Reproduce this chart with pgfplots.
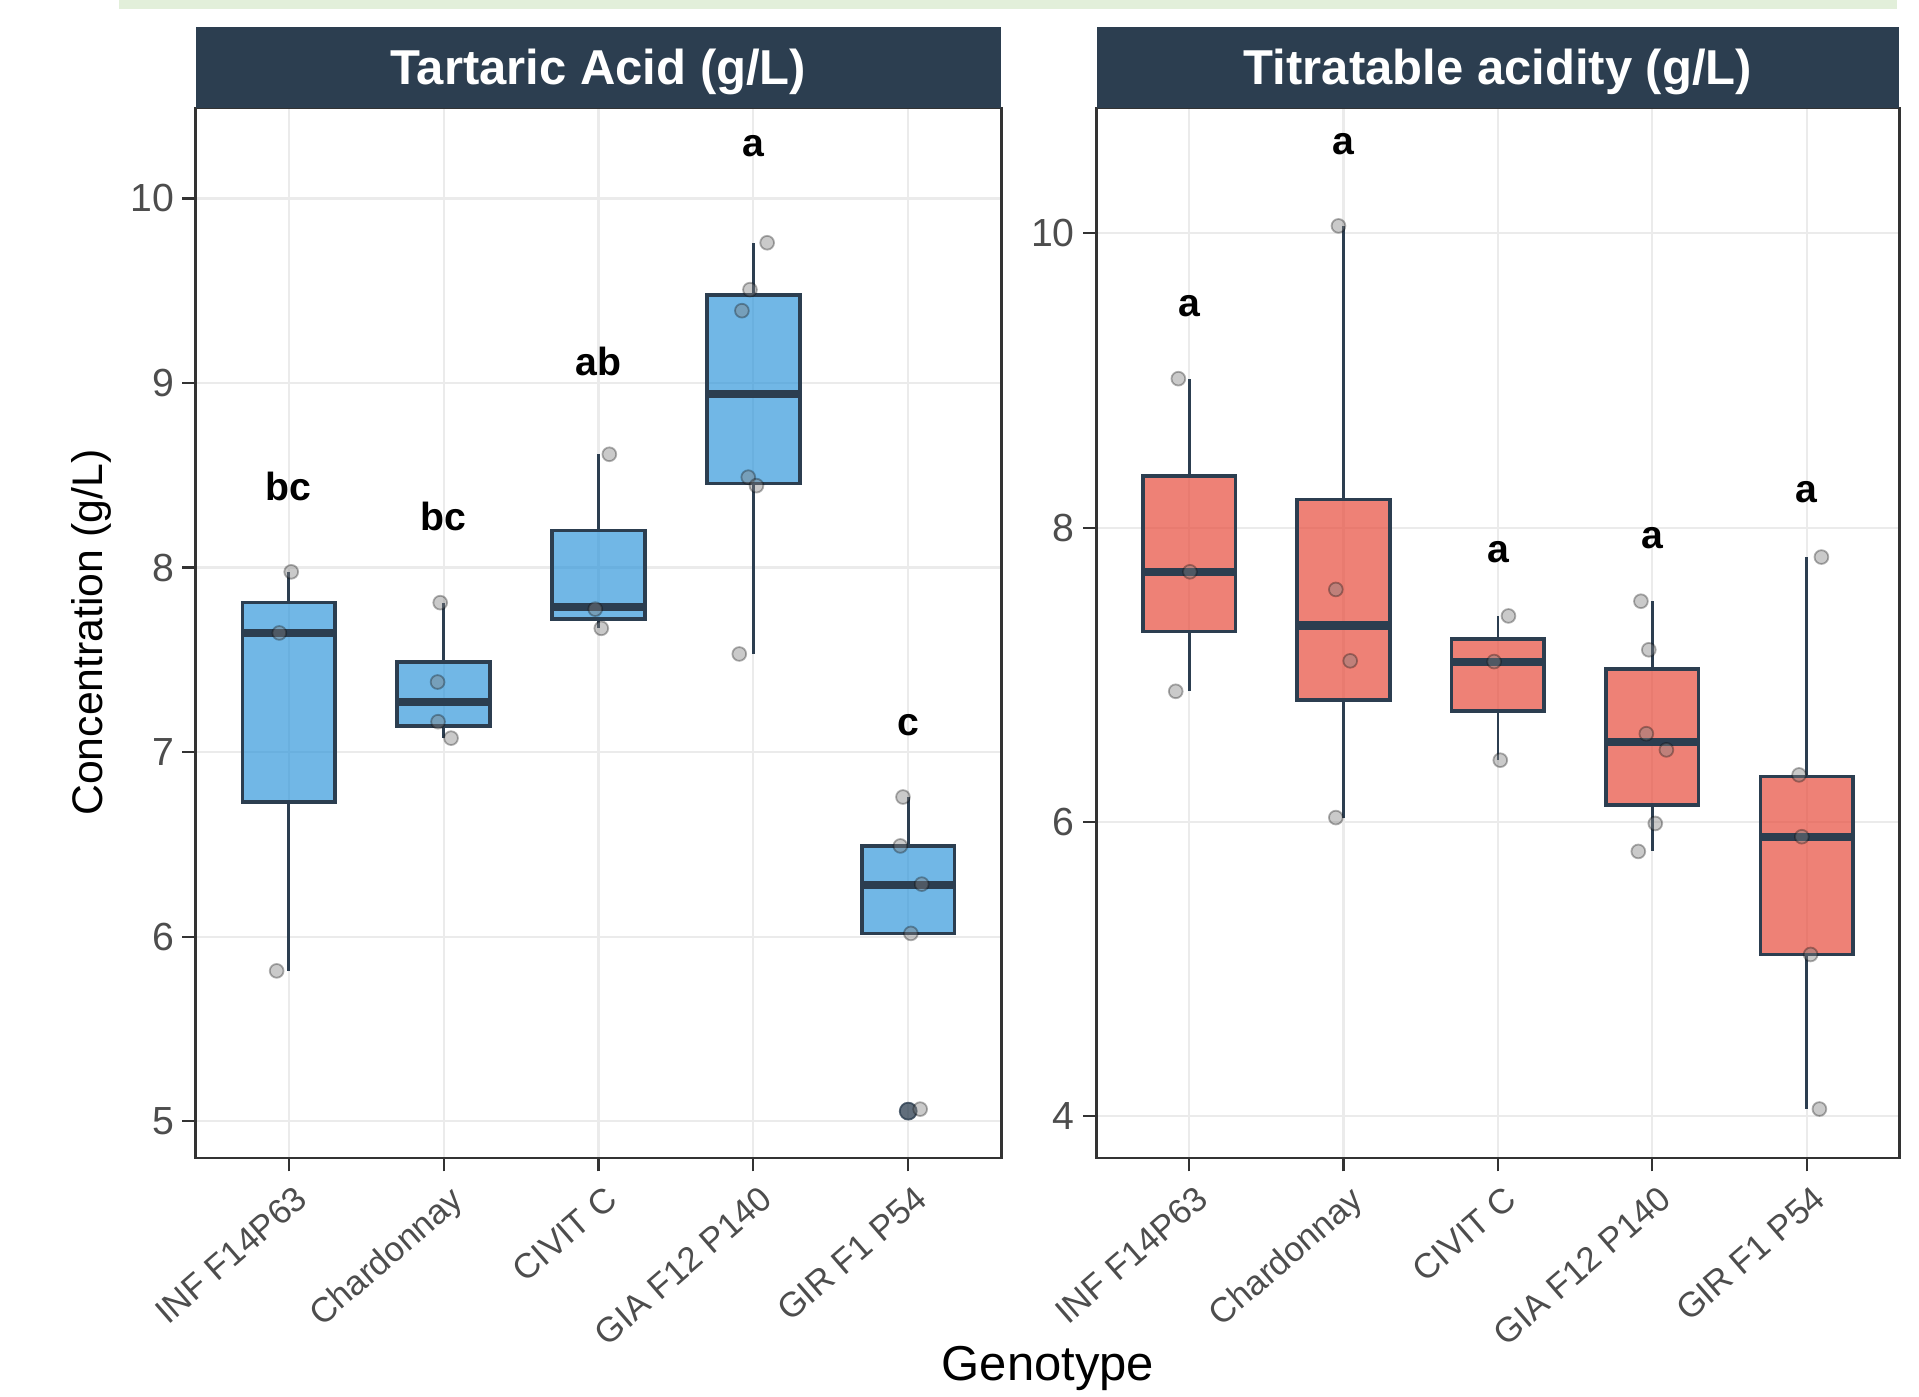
\documentclass[border=0pt]{standalone}
\usepackage{fontspec}
\setmainfont{Liberation Sans}
\usepackage{pgfplots}
\pgfplotsset{compat=1.18}

\definecolor{navy}{HTML}{2C3E50}
\definecolor{bblue}{HTML}{3498DB}
\definecolor{bred}{HTML}{E74C3C}
\definecolor{gridc}{HTML}{EBEBEB}
\definecolor{framec}{HTML}{333333}
\definecolor{ticktext}{HTML}{4D4D4D}
\definecolor{topgreen}{HTML}{E2EFDA}

\tikzset{letter/.style={anchor=base, font=\fontsize{8.8}{10}\selectfont\bfseries, text=black}}

\pgfplotsset{
  panel/.style={
    scale only axis, height=235.7pt,
    xmin=0.4, xmax=5.6,
    xtick={1,2,3,4,5},
    xticklabels={INF F14P63,Chardonnay,CIVIT C,GIA F12 P140,GIR F1 P54},
    grid=major, major grid style={gridc, line width=0.5pt},
    axis line style={framec, line width=0.6pt},
    tick style={framec, line width=0.5pt},
    tick align=outside, major tick length=3pt,
    xtick pos=bottom, ytick pos=left,
    tick label style={text=ticktext},
    yticklabel style={font=\fontsize{8.8}{10}\selectfont, anchor=east, inner sep=0pt, xshift=-1.7pt},
    xticklabel style={font=\fontsize{7.8}{10}\selectfont, xshift=1.1pt, yshift=-2.6pt, rotate=41, anchor=north east, inner sep=0pt},
    /pgf/number format/assume math mode=true,
    clip=false,
  },
  bluebox/.style={draw=navy, fill=bblue, fill opacity=0.7, line width=0.8pt},
  redbox/.style={draw=navy, fill=bred, fill opacity=0.7, line width=0.8pt},
  whisk/.style={draw=navy, line width=0.6pt},
  med/.style={draw=navy, line width=1.8pt},
  pts/.style={only marks, mark=*, mark size=1.55pt,
    mark options={fill=gray, draw=black, fill opacity=0.42, draw opacity=0.3, line width=0.4pt}},
}

\begin{document}
\begin{tikzpicture}
\path[use as bounding box] (0,0) rectangle (430.7pt,-313.4pt);
\fill[topgreen] (26.6pt,0pt) rectangle (425.8pt,-2.0pt);

% ---------- Left panel: Tartaric Acid ----------
\begin{axis}[panel, at={(43.95pt,-259.9pt)}, anchor=south west, width=180.75pt,
  ymin=4.801, ymax=10.491, ytick={5,6,7,8,9,10}]
% INF F14P63
\addplot[whisk] coordinates {(1,7.81) (1,7.977)};
\addplot[whisk] coordinates {(1,6.73) (1,5.815)};
\addplot[bluebox] coordinates {(0.7,6.73) (1.3,6.73) (1.3,7.81) (0.7,7.81)} -- cycle;
\addplot[med] coordinates {(0.7,7.646) (1.3,7.646)};
% Chardonnay
\addplot[whisk] coordinates {(2,7.49) (2,7.81)};
\addplot[whisk] coordinates {(2,7.143) (2,7.076)};
\addplot[bluebox] coordinates {(1.7,7.143) (2.3,7.143) (2.3,7.49) (1.7,7.49)} -- cycle;
\addplot[med] coordinates {(1.7,7.27) (2.3,7.27)};
% CIVIT C
\addplot[whisk] coordinates {(3,8.20) (3,8.614)};
\addplot[whisk] coordinates {(3,7.723) (3,7.671)};
\addplot[bluebox] coordinates {(2.7,7.723) (3.3,7.723) (3.3,8.20) (2.7,8.20)} -- cycle;
\addplot[med] coordinates {(2.7,7.785) (3.3,7.785)};
% GIA F12 P140
\addplot[whisk] coordinates {(4,9.478) (4,9.76)};
\addplot[whisk] coordinates {(4,8.456) (4,7.532)};
\addplot[bluebox] coordinates {(3.7,8.456) (4.3,8.456) (4.3,9.478) (3.7,9.478)} -- cycle;
\addplot[med] coordinates {(3.7,8.94) (4.3,8.94)};
% GIR F1 P54
\addplot[whisk] coordinates {(5,6.492) (5,6.757)};
\addplot[bluebox] coordinates {(4.7,6.018) (5.3,6.018) (5.3,6.492) (4.7,6.492)} -- cycle;
\addplot[med] coordinates {(4.7,6.28) (5.3,6.28)};
% outlier
\addplot[only marks, mark=*, mark size=1.9pt, mark options={fill=navy, draw=navy, fill opacity=0.75, draw opacity=0.8}] coordinates {(5,5.055)};
% jittered observations
\addplot[pts] coordinates {
 (1.016,7.977) (0.939,7.646) (0.922,5.815)
 (1.978,7.81) (1.961,7.38) (1.964,7.165) (2.048,7.076)
 (3.070,8.614) (2.979,7.775) (3.018,7.671)
 (4.089,9.76) (3.978,9.506) (3.926,9.392) (3.967,8.49) (4.020,8.444) (3.909,7.532)
 (4.966,6.757) (4.949,6.492) (5.087,6.285) (5.017,6.018) (5.077,5.066)
};
\node[letter] at (axis cs:1,8.365) {bc};
\node[letter] at (axis cs:2,8.20) {bc};
\node[letter] at (axis cs:3,9.04) {ab};
\node[letter] at (axis cs:4,10.23) {a};
\node[letter] at (axis cs:5,7.09) {c};
\end{axis}

% ---------- Right panel: Titratable acidity ----------
\begin{axis}[panel, at={(246.1pt,-259.9pt)}, anchor=south west, width=180.2pt,
  ymin=3.717, ymax=10.852, ytick={4,6,8,10}]
% INF F14P63
\addplot[whisk] coordinates {(1,8.35) (1,9.012)};
\addplot[whisk] coordinates {(1,7.294) (1,6.888)};
\addplot[redbox] coordinates {(0.7,7.294) (1.3,7.294) (1.3,8.35) (0.7,8.35)} -- cycle;
\addplot[med] coordinates {(0.7,7.70) (1.3,7.70)};
% Chardonnay
\addplot[whisk] coordinates {(2,8.19) (2,10.05)};
\addplot[whisk] coordinates {(2,6.83) (2,6.03)};
\addplot[redbox] coordinates {(1.7,6.83) (2.3,6.83) (2.3,8.19) (1.7,8.19)} -- cycle;
\addplot[med] coordinates {(1.7,7.335) (2.3,7.335)};
% CIVIT C
\addplot[whisk] coordinates {(3,7.245) (3,7.40)};
\addplot[whisk] coordinates {(3,6.755) (3,6.42)};
\addplot[redbox] coordinates {(2.7,6.755) (3.3,6.755) (3.3,7.245) (2.7,7.245)} -- cycle;
\addplot[med] coordinates {(2.7,7.09) (3.3,7.09)};
% GIA F12 P140
\addplot[whisk] coordinates {(4,7.04) (4,7.50)};
\addplot[whisk] coordinates {(4,6.115) (4,5.80)};
\addplot[redbox] coordinates {(3.7,6.115) (4.3,6.115) (4.3,7.04) (3.7,7.04)} -- cycle;
\addplot[med] coordinates {(3.7,6.545) (4.3,6.545)};
% GIR F1 P54
\addplot[whisk] coordinates {(5,6.31) (5,7.80)};
\addplot[whisk] coordinates {(5,5.10) (5,4.05)};
\addplot[redbox] coordinates {(4.7,5.10) (5.3,5.10) (5.3,6.31) (4.7,6.31)} -- cycle;
\addplot[med] coordinates {(4.7,5.90) (5.3,5.90)};
% jittered observations
\addplot[pts] coordinates {
 (0.930,9.012) (1.005,7.70) (0.913,6.888)
 (1.967,10.05) (1.950,7.58) (2.043,7.095) (1.950,6.03)
 (3.068,7.40) (2.975,7.09) (3.015,6.42)
 (3.926,7.50) (3.977,7.17) (3.961,6.60) (4.091,6.49) (4.019,5.99) (3.909,5.80)
 (5.095,7.80) (4.950,6.32) (4.968,5.90) (5.025,5.10) (5.082,4.05)
};
\node[letter] at (axis cs:1,9.435) {a};
\node[letter] at (axis cs:2,10.535) {a};
\node[letter] at (axis cs:3,7.76) {a};
\node[letter] at (axis cs:4,7.86) {a};
\node[letter] at (axis cs:5,8.17) {a};
\end{axis}

% strips
\fill[navy] (43.95pt,-24.17pt) rectangle (224.7pt,-6.04pt);
\fill[navy] (246.1pt,-24.17pt) rectangle (426.3pt,-6.04pt);
\node[anchor=base, text=white, font=\fontsize{11}{13}\selectfont\bfseries] at (134.3pt,-19.0pt) {Tartaric Acid (g/L)};
\node[anchor=base, text=white, font=\fontsize{11}{13}\selectfont\bfseries] at (336.2pt,-19.0pt) {Titratable acidity (g/L)};

% axis titles
\node[rotate=90, font=\fontsize{9.6}{12}\selectfont] at (20.6pt,-142.0pt) {Concentration (g/L)};
\node[anchor=base, font=\fontsize{11}{13}\selectfont] at (235.2pt,-309.9pt) {Genotype};
\end{tikzpicture}
\end{document}
